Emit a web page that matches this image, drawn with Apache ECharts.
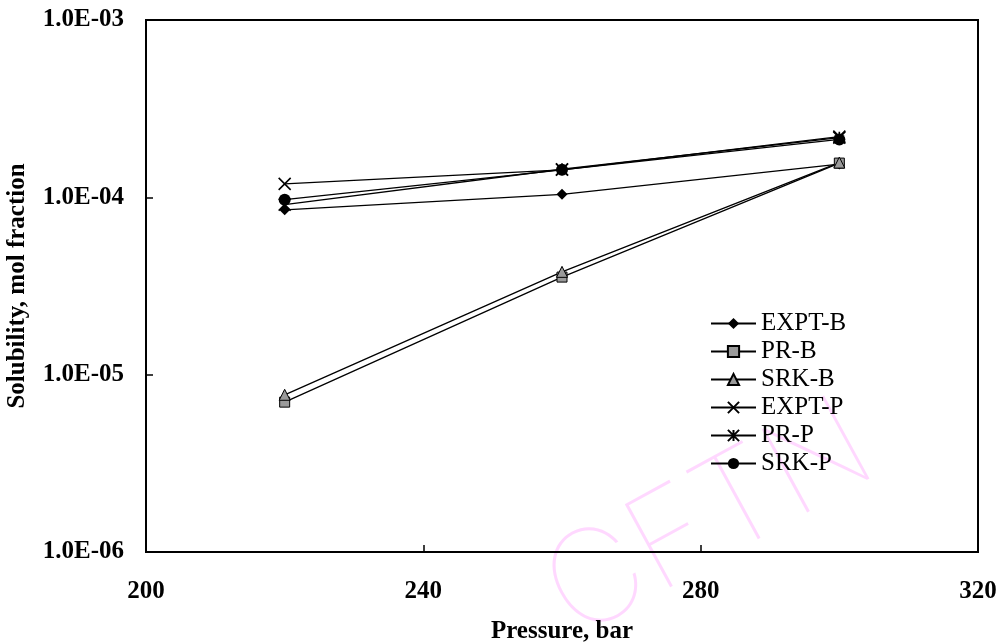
<!DOCTYPE html>
<html>
<head>
<meta charset="utf-8">
<title>Solubility vs Pressure</title>
<script src="https://cdn.jsdelivr.net/npm/echarts@6/dist/echarts.min.js"></script>
<style>
  html, body { margin: 0; padding: 0; background: #fff; }
  #chart { width: 1001px; height: 642px; }
</style>
</head>
<body>
<div id="chart"></div>
<script>
// Pressure points (bar)
const pressure = [220, 260, 300];

// Solubility, mol fraction
const exptB = [8.5e-5, 1.04e-4, 1.54e-4];
const prB   = [7.0e-6, 3.55e-5, 1.56e-4];
const srkB  = [7.7e-6, 3.8e-5, 1.57e-4];
const exptP = [1.19e-4, 1.43e-4, 2.2e-4];
const prP   = [9.1e-5, 1.44e-4, 2.17e-4];
const srkP  = [9.7e-5, 1.43e-4, 2.12e-4];

const xTicks = [200, 240, 280, 320];
const yTicks = [1e-6, 1e-5, 1e-4, 1e-3];

const serif = "'Liberation Serif', 'Times New Roman', serif";

const crossPath = 'path://M0,0L10,10M10,0L0,10';
const starPath = 'path://M0,0L10,10M10,0L0,10M5,0L5,10';

function pairs(vals) {
  return pressure.map((p, i) => [p, vals[i]]);
}

function series(name, vals, symbol, size, fill, border) {
  return {
    name: name,
    type: 'line',
    data: pairs(vals),
    symbol: symbol,
    symbolSize: size,
    showAllSymbol: true,
    lineStyle: { color: '#000', width: 1.3 },
    itemStyle: { color: fill, borderColor: '#000', borderWidth: border },
    emphasis: { disabled: true },
    animation: false
  };
}

function sciLabel(v) {
  const e = Math.round(Math.log10(v));
  const sign = e < 0 ? '-' : '+';
  return '1.0E' + sign + String(Math.abs(e)).padStart(2, '0');
}

const chart = echarts.init(document.getElementById('chart'), null, { renderer: 'canvas' });

chart.setOption({
  backgroundColor: '#fff',
  animation: false,
  grid: {
    left: 146, right: 23, top: 20, bottom: 90,
    containLabel: false,
    outerBoundsMode: 'none',
    show: true, borderColor: '#000', borderWidth: 2
  },
  graphic: [{
    type: 'text',
    left: 525, top: 380,
    rotation: 0.5,
    z: -1,
    style: {
      text: 'CFTN',
      font: "100 130px Inter, 'Noto Sans', sans-serif",
      fill: '#ffd8ff'
    }
  }],
  legend: {
    orient: 'vertical',
    left: 705, top: 306,
    itemWidth: 45, itemHeight: 14, itemGap: 3,
    textStyle: { fontFamily: serif, fontSize: 25, color: '#000' },
    data: ['EXPT-B', 'PR-B', 'SRK-B', 'EXPT-P', 'PR-P', 'SRK-P']
  },
  xAxis: {
    type: 'value',
    min: 200, max: 320, interval: 40,
    name: 'Pressure, bar',
    nameLocation: 'middle',
    nameGap: 67,
    nameTextStyle: { fontFamily: serif, fontSize: 25, fontWeight: 'bold', color: '#000' },
    axisLine: { show: true, lineStyle: { color: '#000', width: 2 } },
    axisTick: { show: true, inside: true, length: 7, lineStyle: { color: '#000', width: 1.5 } },
    axisLabel: {
      margin: 27, fontFamily: serif, fontSize: 25, fontWeight: 'bold', color: '#000',
      formatter: v => (xTicks.includes(v) ? String(v) : '')
    },
    splitLine: { show: false }
  },
  yAxis: {
    type: 'log',
    logBase: 10,
    min: yTicks[0], max: yTicks[yTicks.length - 1],
    name: 'Solubility, mol fraction',
    nameLocation: 'middle',
    nameRotate: 90,
    nameGap: 116,
    nameTextStyle: { fontFamily: serif, fontSize: 25, fontWeight: 'bold', color: '#000' },
    axisLine: { show: true, lineStyle: { color: '#000', width: 2 } },
    axisTick: { show: true, inside: true, length: 7, lineStyle: { color: '#000', width: 1.5 } },
    minorTick: { show: false },
    axisLabel: {
      margin: 22, fontFamily: serif, fontSize: 25, fontWeight: 'bold', color: '#000',
      formatter: sciLabel
    },
    splitLine: { show: false }
  },
  series: [
    series('EXPT-B', exptB, 'diamond', 11, '#000', 0),
    series('PR-B', prB, 'rect', 10, '#9a9a9a', 1),
    series('SRK-B', srkB, 'triangle', 11, '#9a9a9a', 1),
    series('EXPT-P', exptP, crossPath, 12, 'rgba(0,0,0,0)', 1.6),
    series('PR-P', prP, starPath, 12, 'rgba(0,0,0,0)', 1.6),
    series('SRK-P', srkP, 'circle', 12, '#000', 0)
  ]
});
</script>
</body>
</html>
